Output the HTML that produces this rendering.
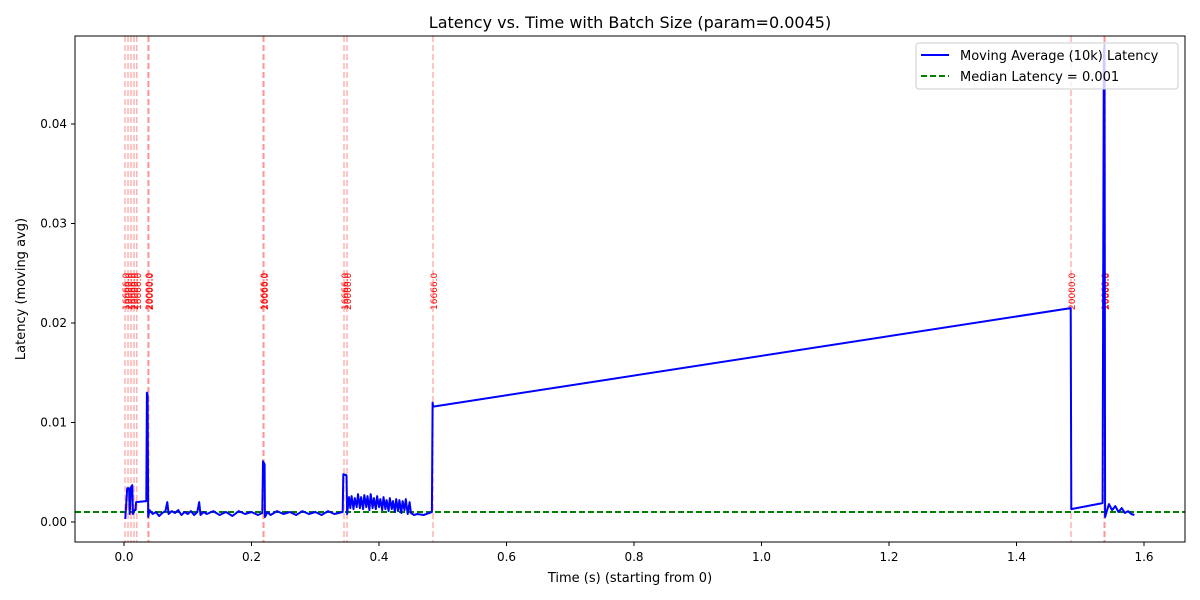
<!DOCTYPE html>
<html><head><meta charset="utf-8"><style>
html,body{margin:0;padding:0;background:#fff;}
svg{display:block;font-family:"DejaVu Sans","Liberation Sans",sans-serif;}
</style></head><body>
<svg id="chart" width="1200" height="600" viewBox="0 0 1200 600">
<rect x="0" y="0" width="1200" height="600" fill="#fff"/>
<text x="630" y="28" font-size="16" text-anchor="middle">Latency vs. Time with Batch Size (param=0.0045)</text>
<g id="plot"></g>
<rect x="75" y="36" width="1110" height="506" fill="none" stroke="#000" stroke-width="1"/>
<g id="axes"></g>
<text x="630" y="582" font-size="13" text-anchor="middle">Time (s) (starting from 0)</text>
<text x="25" y="289" font-size="13" text-anchor="middle" transform="rotate(-90 25 289)">Latency (moving avg)</text>
<g>
<rect x="916" y="43" width="262" height="46" rx="3" fill="#fff" fill-opacity="0.8" stroke="#ccc"/>
<line x1="921" y1="55" x2="949" y2="55" stroke="#0000ff" stroke-width="2"/>
<text x="960" y="60" font-size="13">Moving Average (10k) Latency</text>
<line x1="921" y1="76" x2="949" y2="76" stroke="#008000" stroke-width="2" stroke-dasharray="6,3"/>
<text x="960" y="81" font-size="13">Median Latency = 0.001</text>
</g>
</svg>
<script>
const xTicks=[0.0,0.2,0.4,0.6,0.8,1.0,1.2,1.4,1.6];
const xTickLabels=["0.0","0.2","0.4","0.6","0.8","1.0","1.2","1.4","1.6"];
const yTicks=[0,0.01,0.02,0.03,0.04];
const yTickLabels=["0.00","0.01","0.02","0.03","0.04"];
const medianLatency=0.001;
const batchTimes=[0.0016,0.0063,0.011,0.0157,0.020,0.0376,0.039,0.218,0.2196,0.3451,0.3498,0.4847,1.4855,1.5373,1.5388];
const batchLabels=["16666.0","20000.0","16666.0","20000.0","16666.0","20000.0","20000.0","16666.0","20000.0","16666.0","20000.0","16666.0","20000.0","16666.0","20000.0"];
const seriesT=[0.002,0.005,0.008,0.009,0.011,0.013,0.014,0.016,0.018,0.019,0.035,0.036,0.037,0.038,0.040,0.045,0.05,0.055,0.06,0.065,0.068,0.07,0.075,0.08,0.085,0.09,0.095,0.1,0.105,0.11,0.115,0.118,0.12,0.125,0.13,0.14,0.15,0.16,0.17,0.18,0.19,0.2,0.21,0.217,0.218,0.2205,0.221,0.225,0.23,0.24,0.25,0.26,0.27,0.28,0.29,0.3,0.31,0.32,0.33,0.343,0.344,0.349,0.350,0.353,0.355,0.357,0.36,0.362,0.365,0.367,0.37,0.372,0.375,0.377,0.38,0.382,0.385,0.387,0.39,0.392,0.395,0.397,0.40,0.402,0.405,0.407,0.41,0.412,0.415,0.417,0.42,0.422,0.425,0.427,0.43,0.432,0.435,0.437,0.44,0.442,0.445,0.448,0.45,0.455,0.46,0.47,0.483,0.484,0.485,1.485,1.486,1.535,1.537,1.538,1.539,1.545,1.55,1.555,1.56,1.565,1.57,1.575,1.58,1.585];
const seriesV=[0.0003,0.0034,0.0034,0.0008,0.0035,0.0037,0.0008,0.0012,0.0012,0.0020,0.0021,0.0130,0.0128,0.0005,0.0012,0.0008,0.0010,0.0006,0.0009,0.0011,0.0020,0.0008,0.0011,0.0009,0.0012,0.0007,0.0010,0.0008,0.0011,0.0007,0.0010,0.0020,0.0007,0.0010,0.0008,0.0011,0.0007,0.0010,0.0006,0.0011,0.0008,0.0010,0.0007,0.0009,0.0061,0.0058,0.0005,0.0010,0.0007,0.0011,0.0008,0.0010,0.0007,0.0011,0.0008,0.0010,0.0007,0.0011,0.0008,0.0010,0.0048,0.0047,0.0008,0.0025,0.0014,0.0026,0.0013,0.0024,0.0015,0.0028,0.0014,0.0025,0.0013,0.0027,0.0015,0.0026,0.0012,0.0028,0.0014,0.0024,0.0013,0.0026,0.0015,0.0023,0.0012,0.0025,0.0013,0.0022,0.0011,0.0024,0.0013,0.0021,0.0010,0.0023,0.0011,0.0022,0.0009,0.0021,0.0012,0.0023,0.0008,0.0020,0.0009,0.0007,0.0008,0.0007,0.0010,0.0120,0.0116,0.0215,0.0013,0.0019,0.0470,0.0480,0.0005,0.0018,0.0012,0.0016,0.0010,0.0014,0.0009,0.0011,0.0008,0.0007];
const X0=124,XS=637.5,Y0=522,YS=9950;
function xs(t){return X0+t*XS;}
function ys(v){return Y0-v*YS;}
const NS="http://www.w3.org/2000/svg";
const plot=document.getElementById('plot'),axes=document.getElementById('axes');
function mk(tag,attrs,parent){const e=document.createElementNS(NS,tag);for(const k in attrs)e.setAttribute(k,attrs[k]);parent.appendChild(e);return e;}
batchTimes.forEach((t,i)=>{
  const l=mk('line',{x1:xs(t),x2:xs(t),y1:36,y2:542,stroke:'#ff0000','stroke-opacity':0.3,'stroke-width':1.5,'stroke-dasharray':'6,3'},plot);
  
  
  const x=xs(t)+4,y=310;
  const tx=mk('text',{x:x,y:y,'font-size':9,fill:'#ff0000',transform:`rotate(-90 ${x} ${y})`},plot);
  tx.textContent=batchLabels[i];
  
  
});
const med=mk('line',{x1:75,x2:1185,y1:ys(medianLatency),y2:ys(medianLatency),stroke:'#008000','stroke-width':2,'stroke-dasharray':'6,3'},plot);


const pts=seriesT.map((t,i)=>xs(t).toFixed(1)+','+ys(seriesV[i]).toFixed(1)).join(' ');
const pl=mk('polyline',{points:pts,fill:'none',stroke:'#0000ff','stroke-width':2,'stroke-linejoin':'round'},plot);


xTicks.forEach((t,i)=>{
  const x=xs(t);
  const tk=mk('line',{x1:x,x2:x,y1:542,y2:546,stroke:'#000'},axes);
  
  
  const tx=mk('text',{x:x,y:561,'font-size':12,'text-anchor':'middle'},axes);
  tx.textContent=xTickLabels[i];
  
  
});
yTicks.forEach((v,i)=>{
  const y=ys(v);
  const tk=mk('line',{x1:71,x2:75,y1:y,y2:y,stroke:'#000'},axes);
  
  
  const tx=mk('text',{x:67,y:y+4,'font-size':12,'text-anchor':'end'},axes);
  tx.textContent=yTickLabels[i];
  
  
});
</script>
</body></html>
